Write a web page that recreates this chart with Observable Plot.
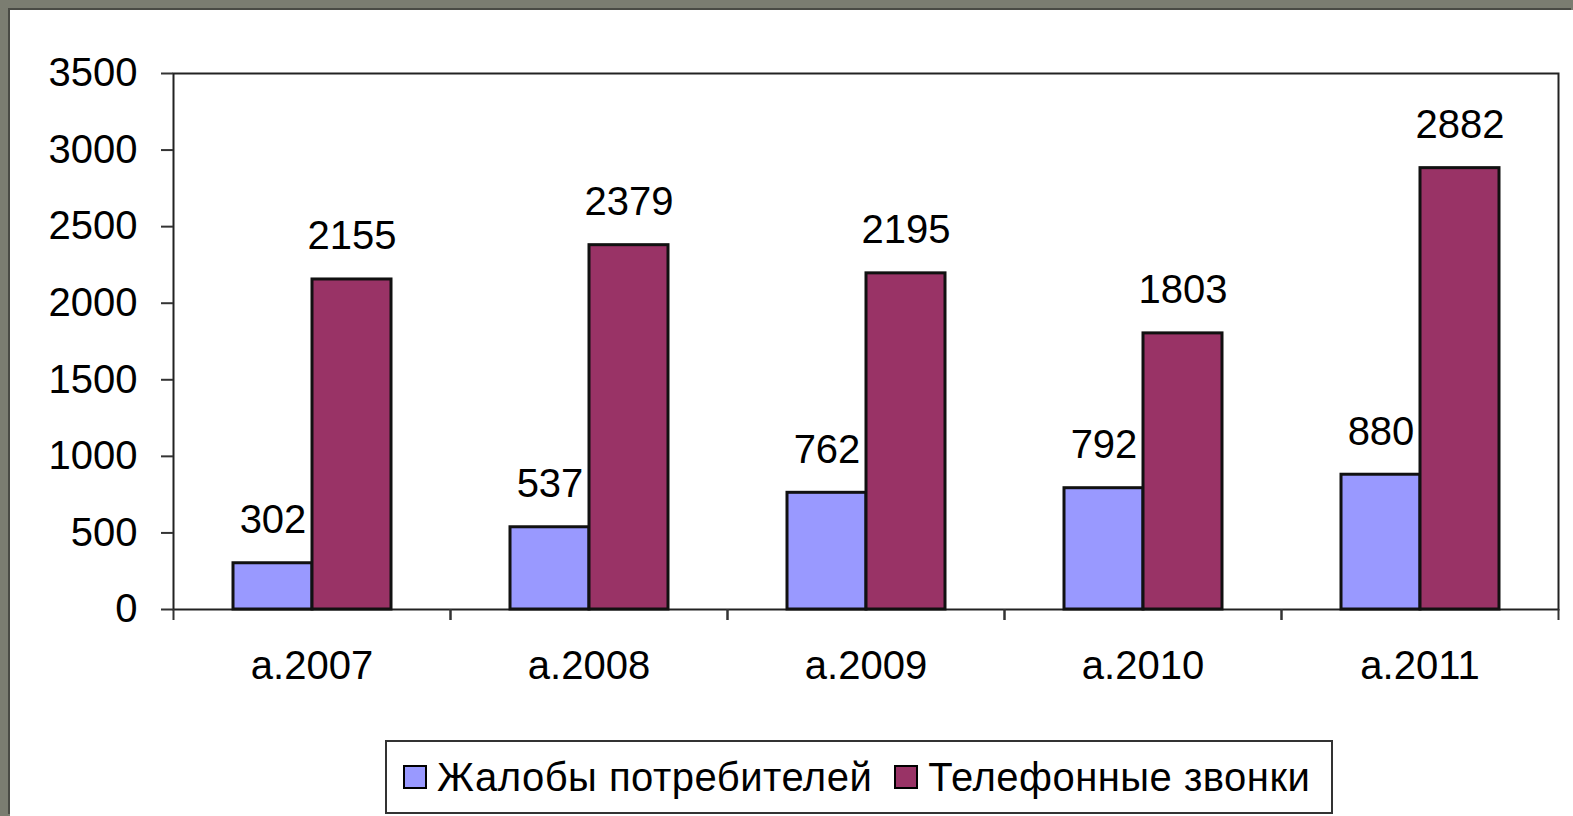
<!DOCTYPE html>
<html>
<head>
<meta charset="utf-8">
<script src="https://cdn.jsdelivr.net/npm/d3@7"></script>
<script src="https://cdn.jsdelivr.net/npm/@observablehq/plot@0.6"></script>
<style>
  html, body { margin: 0; padding: 0; }
  body { width: 1573px; height: 816px; background: #7b7d71; position: relative; overflow: hidden; font-family: "Liberation Sans", Arial, sans-serif; }
  #panel { position: absolute; left: 10px; top: 10px; width: 1563px; height: 806px; background: #fff; box-shadow: -2px -2px 0 #4a4b45; }
  #chart { position: absolute; left: 0; top: 0; }
  #legend { position: absolute; left: 375px; top: 730px; width: 944px; height: 70px; border: 2px solid #333; background: #fff;
            display: flex; align-items: center; font-size: 40px; color: #000; box-sizing: content-box; letter-spacing: 0.5px; }
  .item { display: flex; align-items: center; }
  .sw { width: 20px; height: 20px; border: 2px solid #000; margin-left: 16px; margin-right: 10px; }
  .item + .item .sw { margin-left: 22px; }
</style>
</head>
<body>
<div id="panel">
  <div id="chart"></div>
  <div id="legend"></div>
</div>
<script>
const years = ["a.2007", "a.2008", "a.2009", "a.2010", "a.2011"];
const series = ["Жалобы потребителей", "Телефонные звонки"];
const complaints = [302, 537, 762, 792, 880];
const calls = [2155, 2379, 2195, 1803, 2882];
const yTicks = [0, 500, 1000, 1500, 2000, 2500, 3000, 3500];
const colors = ["#9999ff", "#993366"];

const data = years.flatMap((yr, i) => [
  {year: yr, series: series[0], value: complaints[i]},
  {year: yr, series: series[1], value: calls[i]}
]);

const step = (1563 - 163 - 15) / years.length;

const chart = Plot.plot({
  width: 1563,
  height: 700,
  marginLeft: 163,
  marginRight: 15,
  marginTop: 63,
  marginBottom: 101,
  style: {fontFamily: "'Liberation Sans', Arial, sans-serif", fontSize: "40px", color: "#000", background: "transparent"},
  fx: {domain: years, padding: 0, label: null},
  x: {domain: series, paddingInner: 0, paddingOuter: 0.753, axis: null},
  y: {domain: [0, 3500], label: null},
  color: {domain: series, range: colors},
  marks: [
    Plot.frame({facet: "super", stroke: "#222", strokeWidth: 2}),
    Plot.axisY({ticks: yTicks, tickFormat: d => String(d), tickSize: 12, tickPadding: 24, stroke: "#333", strokeWidth: 2, fontSize: 40, label: null}),
    Plot.axisFx({anchor: "bottom", tickSize: 0, tickPadding: 41, fontSize: 40, label: null}),
    Plot.axisFx({anchor: "bottom", tickSize: 11, text: null, stroke: "#333", strokeWidth: 2, dx: -step / 2, label: null}),
    Plot.axisFx({anchor: "bottom", tickSize: 11, text: null, stroke: "#333", strokeWidth: 2, dx: step / 2, label: null}),
    Plot.barY(data, {fx: "year", x: "series", y: "value", fill: "series", stroke: "#111", strokeWidth: 3}),
    Plot.text(data, {fx: "year", x: "series", y: "value", text: d => String(d.value), dy: -30, lineAnchor: "bottom", fontSize: 40, fill: "#000"})
  ]
});
document.getElementById("chart").appendChild(chart);

const legend = document.getElementById("legend");
series.forEach((s, i) => {
  const item = document.createElement("div");
  item.className = "item";
  const sw = document.createElement("div");
  sw.className = "sw";
  sw.style.background = colors[i];
  const t = document.createElement("span");
  t.textContent = s;
  item.appendChild(sw);
  item.appendChild(t);
  legend.appendChild(item);
});
</script>
</body>
</html>
